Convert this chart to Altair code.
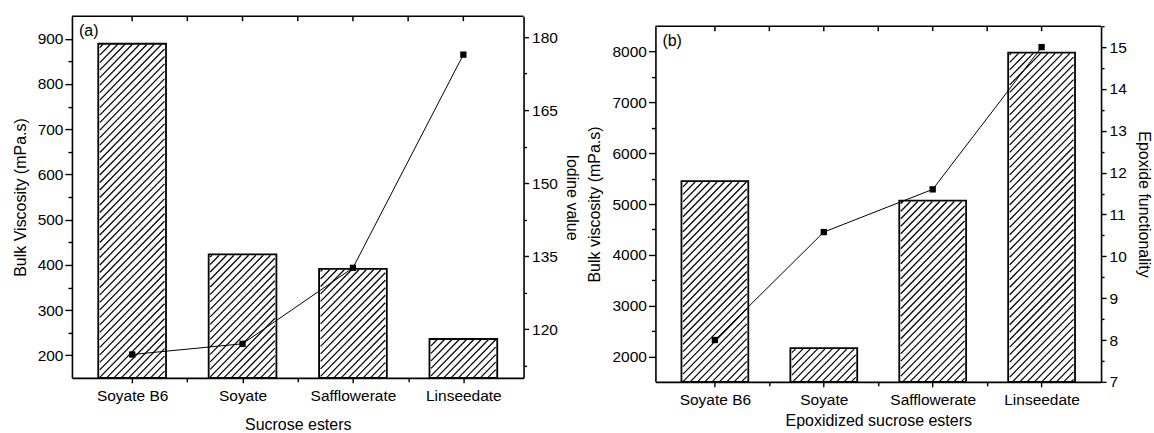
import json
import altair as alt
import numpy as np
import pandas as pd

categories = ["Soyate B6", "Soyate", "Safflowerate", "Linseedate"]

# (a) sucrose esters
viscosity_a = [889, 423, 391, 236]            # bulk viscosity, mPa.s
iodine_a = [114.8, 117.0, 132.6, 176.4]       # iodine value

# (b) epoxidized sucrose esters
viscosity_b = [5450, 2165, 5065, 7980]        # bulk viscosity, mPa.s
epoxide_b = [8.0, 10.58, 11.6, 15.0]          # epoxide functionality

FONT = "Liberation Sans"
N = len(categories)
BAR_FRAC = 0.6
HATCH_GAP = 7.5


def hatch_segments(values, W, Hp, y0, y1, spacing=HATCH_GAP):
    """Diagonal '/' hatch lines clipped to each bar, returned in data units."""
    step = W / N
    bw = BAR_FRAC * step
    rows = []
    for i, v in enumerate(values):
        cx = (i + 0.5) * step
        L, R = cx - bw / 2 + 0.8, cx + bw / 2 - 0.8
        T = (v - y0) / (y1 - y0) * Hp - 0.8
        k0 = int(np.floor((L - T) / spacing)) - 1
        k1 = int(np.ceil(R / spacing)) + 1
        for k in range(k0, k1 + 1):
            c = k * spacing + 0.4
            a = max(L, c)
            b = min(R, c + T)
            if b - a > 0.6:
                rows.append(dict(
                    x=a / W * N, x2=b / W * N,
                    y=y0 + (a - c) / Hp * (y1 - y0),
                    y2=y0 + (b - c) / Hp * (y1 - y0)))
    return pd.DataFrame(rows)


def panel(tag, W, H, top, visc, sec, ldom, lmaj, lstep, rdom, rmaj, rvals, rfmt,
          ltitle, rtitle, xtitle, xlabel_pad, xtitle_pad, rtitle_pad):
    y0, y1 = ldom
    Hp = H - top
    label_list = json.dumps(categories).replace('"', "'")
    xaxis = alt.Axis(
        values=[0.5, 1, 1.5, 2, 2.5, 3, 3.5],
        labelExpr=f"datum.value % 1 == 0.5 ? {label_list}[floor(datum.value)] : ''",
        tickSize={"condition": {"test": "datum.value % 1 == 0.5", "value": 5}, "value": 4},
        labelPadding=xlabel_pad, labelOverlap=False, labelFlush=False,
        title=xtitle, titlePadding=xtitle_pad,
    )
    xenc = alt.X("x:Q", scale=alt.Scale(domain=[0, N], nice=False, zero=False), axis=xaxis)

    lvals = list(np.arange(lmaj[0], lmaj[1] + 1e-9, lstep / 2))
    yaxis = alt.Axis(
        values=lvals,
        labelExpr=f"datum.value % {lstep} == 0 ? datum.label : ''",
        tickSize={"condition": {"test": f"datum.value % {lstep} == 0", "value": 7}, "value": 4},
        format="d", labelPadding=2, labelOverlap=False, labelFlush=False,
        title=ltitle, titlePadding=9,
    )
    yenc = alt.Y("y:Q", scale=alt.Scale(domain=list(ldom), range=[H, top], nice=False, zero=False),
                 axis=yaxis)

    bars_df = pd.DataFrame({"x": [i + 0.5 for i in range(N)], "y": visc})
    bw = BAR_FRAC * W / N
    base = alt.Chart(bars_df)
    fill = base.mark_bar(width=bw, color="white").encode(x=xenc, y=yenc, y2=alt.Y2(datum=y0))
    hatch = alt.Chart(hatch_segments(visc, W, Hp, y0, y1)).mark_rule(
        color="black", strokeWidth=1.25).encode(x=xenc, x2="x2:Q", y=yenc, y2="y2:Q")
    outline = base.mark_bar(width=bw, filled=False, stroke="black", strokeWidth=1.8).encode(
        x=xenc, y=yenc, y2=alt.Y2(datum=y0))

    ticks_df = pd.DataFrame({"x": [0.5, 1, 1.5, 2, 2.5, 3, 3.5]})
    top_ticks = alt.Chart(ticks_df).mark_rule(color="black", strokeWidth=1.5).encode(
        x=xenc, y=alt.value(top), y2=alt.value(top + 5))
    one = pd.DataFrame({"k": [0]})
    top_line = alt.Chart(one).mark_rule(color="black", strokeWidth=1.5).encode(
        x=alt.value(0), x2=alt.value(W), y=alt.value(top))
    tag_text = alt.Chart(one).mark_text(
        align="left", baseline="middle", font=FONT, fontSize=16, color="black").encode(
        x=alt.value(7), y=alt.value(top + 15), text=alt.value(tag))

    left = alt.layer(fill, hatch, outline, top_ticks, top_line, tag_text)

    major_test = f"indexof({json.dumps(rmaj)}, datum.value) >= 0"
    raxis = alt.Axis(
        orient="right", values=rvals,
        labelExpr=f"{major_test} ? datum.label : ''",
        tickSize={"condition": {"test": major_test, "value": 5}, "value": 3},
        format=rfmt, labelPadding=3, labelOverlap=False, labelFlush=False,
        title=rtitle, titlePadding=rtitle_pad, titleAngle=90,
    )
    sec_df = pd.DataFrame({"x": [i + 0.5 for i in range(N)], "r": sec})
    renc = alt.Y("r:Q", scale=alt.Scale(domain=list(rdom), range=[H, top], nice=False, zero=False),
                 axis=raxis)
    line = alt.Chart(sec_df).mark_line(color="black", strokeWidth=1).encode(x=xenc, y=renc)
    pts = alt.Chart(sec_df).mark_square(color="black", size=40, opacity=1).encode(x=xenc, y=renc)
    right = alt.layer(line, pts)

    return alt.layer(left, right).resolve_scale(y="independent").properties(width=W, height=H)


pa = panel("(a)", 452, 362, 0, viscosity_a, iodine_a,
           (150, 950), (200, 900), 100,
           (110, 184.3), [120, 135, 150, 165, 180],
           [float(v) for v in np.arange(112.5, 184, 7.5)], ".0f",
           "Bulk Viscosity (mPa.s)", "Iodine value", "Sucrose esters", 6, 12, 6)
pb = panel("(b)", 446, 366, 10, viscosity_b, epoxide_b,
           (1500, 8500), (2000, 8000), 1000,
           (7, 15.5), [7, 8, 9, 10, 11, 12, 13, 14, 15],
           [float(v) for v in np.arange(7, 15.51, 0.5)], ".0f",
           "Bulk viscosity (mPa.s)", "Epoxide functionality", "Epoxidized sucrose esters", 6, 4, 9)

chart = alt.hconcat(pa, pb, spacing=7).properties(
    padding={"left": 12, "top": 15, "right": 2, "bottom": 0}
).configure(font=FONT, background="white").configure_view(stroke=None).configure_axis(
    grid=False, domainColor="black", domainWidth=1.6, tickColor="black", tickWidth=1.4,
    labelFont=FONT, labelFontSize=15.5, labelColor="black",
    titleFont=FONT, titleFontSize=16, titleFontWeight="normal", titleColor="black",
)

chart.save("out.html", embed_options={"renderer": "svg", "actions": False})
